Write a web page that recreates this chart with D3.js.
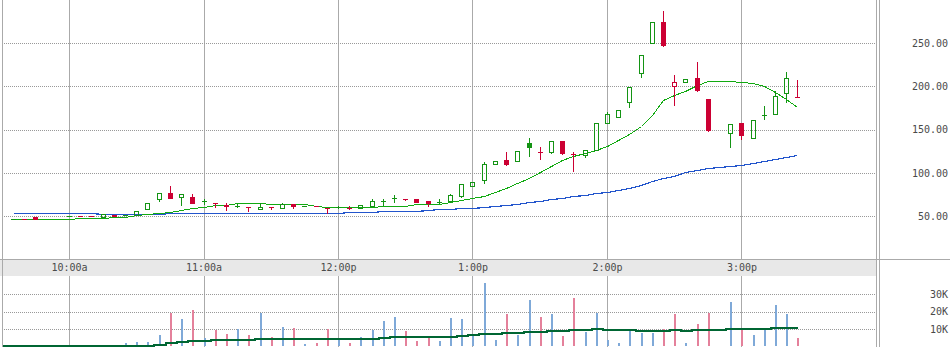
<!DOCTYPE html>
<html>
<head>
<meta charset="utf-8">
<script src="https://cdn.jsdelivr.net/npm/d3@7"></script>
<style>
  body { margin: 0; background: #fff; }
  .chart svg { display: block; }
</style>
</head>
<body>
<div class="chart"></div>
<script>
// 5 minute slots, 9:30 .. 15:25 (null = no trade in that slot)
const slots = ["9:30","9:35","9:40","9:45","9:50","9:55","10:00","10:05","10:10","10:15","10:20","10:25",
  "10:30","10:35","10:40","10:45","10:50","10:55","11:00","11:05","11:10","11:15","11:20","11:25",
  "11:30","11:35","11:40","11:45","11:50","11:55","12:00","12:05","12:10","12:15","12:20","12:25",
  "12:30","12:35","12:40","12:45","12:50","12:55","13:00","13:05","13:10","13:15","13:20","13:25",
  "13:30","13:35","13:40","13:45","13:50","13:55","14:00","14:05","14:10","14:15","14:20","14:25",
  "14:30","14:35","14:40","14:45","14:50","14:55","15:00","15:05","15:10","15:15","15:20","15:25"];

const open = [null,47.0,46.8,48.8,null,null,50.3,50.1,49.9,49.6,51.8,51.0,
  51.5,58.8,69.6,76.5,72.3,72.6,67.3,65.0,63.4,62.2,61.0,58.0,
  60.4,59.6,64.2,62.4,61.5,59.2,60.4,60.0,59.9,61.9,68.0,70.6,
  70.4,69.6,67.7,66.9,67.7,73.8,85.3,91.9,110.0,115.0,113.5,134.6,
  123.9,124.7,137.0,121.6,120.8,126.6,157.4,164.3,181.6,215.1,249.8,274.0,
  200.1,204.7,209.4,185.5,null,146.5,157.7,140.0,167.0,167.8,192.0,187.4];

const high = [null,47.0,46.8,48.8,null,null,50.3,50.1,49.9,52.3,51.8,51.5,
  55.8,65.0,76.5,85.0,75.4,75.7,70.3,65.0,65.0,64.2,61.0,65.7,
  60.4,65.4,64.2,62.4,61.5,59.2,61.5,62.0,62.7,70.0,70.5,74.6,
  70.4,69.6,67.7,69.5,75.8,87.3,90.0,112.7,113.5,124.2,125.0,140.4,
  129.7,137.3,137.0,124.6,126.6,157.4,170.0,172.5,199.0,235.9,274.0,287.0,
  213.0,208.2,228.5,185.5,null,156.2,157.7,160.8,177.4,194.7,217.0,207.4];

const low = [null,47.0,46.8,46.6,null,null,50.3,50.1,49.9,49.6,50.4,51.0,
  51.5,58.8,67.3,71.0,62.7,65.7,64.2,60.4,57.6,60.4,56.5,58.0,
  58.8,59.6,59.2,62.4,61.5,53.5,59.5,58.5,59.9,61.9,63.0,66.9,
  68.8,66.0,61.9,65.5,66.9,72.0,85.3,88.8,110.0,109.2,113.5,120.0,
  116.2,122.7,122.3,102.7,118.0,126.6,157.4,164.3,176.6,210.5,249.8,247.0,
  178.5,204.7,195.0,149.0,null,130.4,139.6,140.0,162.0,167.8,182.3,187.4];

const close = [null,47.0,46.8,46.6,null,null,50.3,50.1,49.9,52.3,50.4,51.5,
  55.8,65.0,76.5,71.5,75.4,65.7,67.3,65.0,61.5,62.2,61.0,61.3,
  60.4,63.9,62.2,62.4,61.5,59.2,60.4,60.0,62.7,67.7,68.0,70.6,
  70.4,66.9,65.0,66.9,74.6,87.3,90.0,110.0,113.5,110.7,125.0,130.4,
  123.9,137.3,123.5,121.6,126.6,157.4,167.8,172.5,199.0,235.9,274.0,247.8,
  204.7,208.2,195.8,149.7,null,156.2,144.2,160.8,167.0,188.6,209.4,187.4];

const volume = [null,300,400,400,null,null,300,400,400,400,400,1700,
  2300,2300,6500,19000,15800,21000,5000,9400,7100,10000,6500,19000,
  5400,11200,10600,1300,1900,10000,4600,1900,5400,9400,14600,16900,
  8800,3000,5800,3000,16300,15800,6700,36600,3600,18500,6500,26800,
  16900,18700,6000,27900,8300,19200,3600,1900,9400,7700,7700,10000,
  18700,1900,12900,19200,null,25600,10000,6500,10000,23900,18700,4800];

// moving averages
const maShort = [null,46.9,46.9,46.9,46.9,46.9,46.9,48.0,48.0,48.4,49.5,49.5,
  51.2,52.3,53.8,55.3,57.3,59.2,61.1,63.0,63.0,65.7,65.7,65.7,
  63.9,63.9,63.9,63.9,61.5,60.8,60.4,60.4,60.4,60.4,61.9,61.9,
  61.9,63.9,63.9,64.5,66.5,69.0,71.5,74.0,78.5,83.0,88.0,94.0,
  101.0,108.0,114.5,120.0,123.0,126.0,131.0,138.0,145.5,154.5,167.5,184.0,
  189.5,195.0,202.0,206.2,206.2,206.0,205.5,204.3,200.5,193.0,185.0,176.0];

const maLong = [null,53.5,53.5,53.5,53.5,53.5,53.5,53.5,53.5,52.3,52.3,52.3,
  52.3,52.3,52.3,53.5,53.5,53.5,53.5,53.5,53.5,53.5,53.5,53.5,
  53.5,53.5,53.5,53.5,53.5,53.5,54.2,54.5,54.5,54.5,56.0,56.3,
  56.3,56.3,57.3,58.5,59.0,59.5,60.0,60.8,61.8,63.0,64.5,66.5,
  68.0,70.0,71.5,73.0,75.0,76.5,78.0,80.0,83.0,86.5,90.5,94.0,
  97.0,101.5,104.0,106.0,107.5,108.5,109.5,111.0,113.5,116.5,118.5,121.0];

const volMA = [750,750,750,750,750,750,750,750,750,750,750,750,
  750,750,1500,2500,3000,3800,3800,4400,4400,4400,4400,5000,
  5000,5000,5000,5000,5000,5000,5000,5000,5000,5000,5500,6000,
  6000,6000,6000,6000,6000,6500,7100,7500,7500,8100,8100,8700,
  8700,9200,9200,9800,9800,10400,9800,9800,9800,9200,9200,9200,
  9800,9200,9800,9800,9800,10400,10400,10400,10400,11200,11200,11200];

const hourTicks = ["10:00","11:00","12:00","13:00","14:00","15:00"];
const priceTicks = [50, 100, 150, 200, 250];
const volumeTicks = [10000, 20000, 30000];

const wdth = 950, hght = 347;
const plotRight = 876.5;
const bandTop = 259, bandBottom = 276;

const upColor = "#149414", downColor = "#cc0033";
const volUp = "#7fa9d8", volDown = "#e4819b";
const gridColor = "#aaaaaa";

const parseT = d3.timeParse("%H:%M");

const x = d3.scaleTime()
  .domain([parseT("9:30"), parseT("16:00")])
  .range([1.8, 875.9]);

const y = d3.scaleLinear()
  .domain([0, 300])
  .range([259.6, -0.2]);

const yv = d3.scaleLinear()
  .domain([0, 40000])
  .range([346.3, 277.1]);

const data = slots.map((s, i) => ({
  t: parseT(s),
  o: open[i], h: high[i], l: low[i], c: close[i], v: volume[i],
  ma1: maShort[i], ma2: maLong[i], vma: volMA[i]
}));

// up / down is judged against the previous close, hollow when close > open
let prevClose = null;
data.forEach(d => {
  if (d.c == null) return;
  const ref = prevClose == null ? d.o : prevClose;
  d.up = d.c >= ref;
  prevClose = d.c;
});

const bars = data.filter(d => d.c != null);
const cx = d => Math.round(x(d.t));

const svg = d3.select(".chart")
  .append("svg")
  .attr("width", wdth)
  .attr("height", hght)
  .attr("viewBox", `0 0 ${wdth} ${hght}`)
  .style("font-family", "'DejaVu Sans Mono', monospace")
  .style("font-size", "10px");

// grid
const grid = svg.append("g").attr("shape-rendering", "crispEdges");

grid.selectAll("line.hour")
  .data(hourTicks.map(parseT))
  .enter()
  .append("line")
  .attr("class", "hour")
  .attr("x1", d => Math.round(x(d)) + 0.5)
  .attr("x2", d => Math.round(x(d)) + 0.5)
  .attr("y1", 0)
  .attr("y2", hght)
  .attr("stroke", gridColor);

grid.selectAll("line.pgrid")
  .data(priceTicks)
  .enter()
  .append("line")
  .attr("class", "pgrid")
  .attr("x1", 2)
  .attr("x2", plotRight)
  .attr("y1", d => Math.round(y(d)) + 0.5)
  .attr("y2", d => Math.round(y(d)) + 0.5)
  .attr("stroke", "#999")
  .attr("stroke-dasharray", "1,1");

grid.selectAll("line.vgrid")
  .data(volumeTicks)
  .enter()
  .append("line")
  .attr("class", "vgrid")
  .attr("x1", 2)
  .attr("x2", plotRight)
  .attr("y1", d => Math.round(yv(d)) + 0.5)
  .attr("y2", d => Math.round(yv(d)) + 0.5)
  .attr("stroke", "#999")
  .attr("stroke-dasharray", "1,1");

// time band
svg.append("rect")
  .attr("x", 0)
  .attr("y", bandTop)
  .attr("width", plotRight)
  .attr("height", bandBottom - bandTop)
  .attr("fill", "#e8e8e8");

svg.append("g")
  .attr("shape-rendering", "crispEdges")
  .selectAll("line")
  .data([
    [0, bandTop + 0.5, wdth, bandTop + 0.5],
    [2.5, 0, 2.5, hght],
    [plotRight, 0, plotRight, hght],
    [plotRight + 3, 0, plotRight + 3, hght]
  ])
  .enter()
  .append("line")
  .attr("x1", d => d[0]).attr("y1", d => d[1])
  .attr("x2", d => d[2]).attr("y2", d => d[3])
  .attr("stroke", gridColor);

// time labels
const fmtHour = d => d3.timeFormat("%-I:%M")(d) + (d.getHours() < 12 ? "a" : "p");
svg.append("g")
  .attr("transform", `translate(0,${bandTop})`)
  .call(d3.axisBottom(x).tickValues(hourTicks.map(parseT)).tickSize(0).tickPadding(5).tickFormat(fmtHour))
  .call(g => g.select(".domain").remove())
  .attr("font-family", "'DejaVu Sans Mono', monospace")
  .attr("font-size", 10)
  .attr("color", "#4a4a4a");

// right hand labels
svg.append("g")
  .attr("transform", "translate(948,0)")
  .call(d3.axisLeft(y).tickValues(priceTicks).tickSize(0).tickPadding(0).tickFormat(d3.format(".2f")))
  .call(g => g.select(".domain").remove())
  .attr("font-family", "'DejaVu Sans Mono', monospace")
  .attr("font-size", 10)
  .attr("color", "#4a4a4a");

svg.append("g")
  .attr("transform", "translate(948,0)")
  .call(d3.axisLeft(yv).tickValues(volumeTicks).tickSize(0).tickPadding(0).tickFormat(d => d / 1000 + "K"))
  .call(g => g.select(".domain").remove())
  .attr("font-family", "'DejaVu Sans Mono', monospace")
  .attr("font-size", 10)
  .attr("color", "#4a4a4a");

// moving averages on price
const maLine = key => d3.line()
  .defined(d => d[key] != null)
  .x(d => cx(d) + 0.5)
  .y(d => Math.round(y(d[key])) + 0.5);

svg.append("path")
  .datum(data)
  .attr("d", maLine("ma2"))
  .attr("fill", "none")
  .attr("stroke", "#2255cc")
  .attr("stroke-width", 1.2)
  .attr("shape-rendering", "crispEdges");

svg.append("path")
  .datum(data)
  .attr("d", maLine("ma1"))
  .attr("fill", "none")
  .attr("stroke", "#11aa11")
  .attr("stroke-width", 1)
  .attr("shape-rendering", "crispEdges");

// candles
const candles = svg.append("g")
  .attr("shape-rendering", "crispEdges")
  .selectAll("g.candle")
  .data(bars)
  .enter()
  .append("g")
  .attr("class", "candle");

candles.each(function (d) {
  const g = d3.select(this);
  const col = d.up ? upColor : downColor;
  const px = cx(d);
  const top = Math.round(y(Math.max(d.o, d.c)));
  const bot = Math.round(y(Math.min(d.o, d.c)));
  const hi = Math.round(y(d.h));
  const lo = Math.round(y(d.l));

  if (hi < top) {
    g.append("line").attr("x1", px + 0.5).attr("x2", px + 0.5)
      .attr("y1", hi).attr("y2", top).attr("stroke", col);
  }
  if (lo > bot) {
    g.append("line").attr("x1", px + 0.5).attr("x2", px + 0.5)
      .attr("y1", bot + 1).attr("y2", lo + 1).attr("stroke", col);
  }

  if (bot - top < 1) {
    // open == close: a dash
    g.append("line")
      .attr("x1", px - 2).attr("x2", px + 3)
      .attr("y1", top + 0.5).attr("y2", top + 0.5)
      .attr("stroke", col);
  } else if (d.c > d.o) {
    g.append("rect")
      .attr("x", px - 1.5).attr("y", top + 0.5)
      .attr("width", 4).attr("height", bot - top)
      .attr("fill", "none").attr("stroke", col);
  } else {
    g.append("rect")
      .attr("x", px - 2).attr("y", top)
      .attr("width", 5).attr("height", bot - top + 1)
      .attr("fill", col);
  }
});

// volume
svg.append("g")
  .attr("shape-rendering", "crispEdges")
  .selectAll("rect")
  .data(bars)
  .enter()
  .append("rect")
  .attr("x", d => cx(d))
  .attr("y", d => yv(d.v))
  .attr("width", 2)
  .attr("height", d => yv(0) - yv(d.v))
  .attr("fill", d => d.up ? volUp : volDown);

svg.append("path")
  .datum(data)
  .attr("d", d3.line()
    .curve(d3.curveStep)
    .x(d => cx(d) + 1)
    .y(d => Math.round(yv(d.vma)) + 0.5))
  .attr("fill", "none")
  .attr("stroke", "#006633")
  .attr("stroke-width", 2)
  .attr("shape-rendering", "crispEdges");
</script>
</body>
</html>
